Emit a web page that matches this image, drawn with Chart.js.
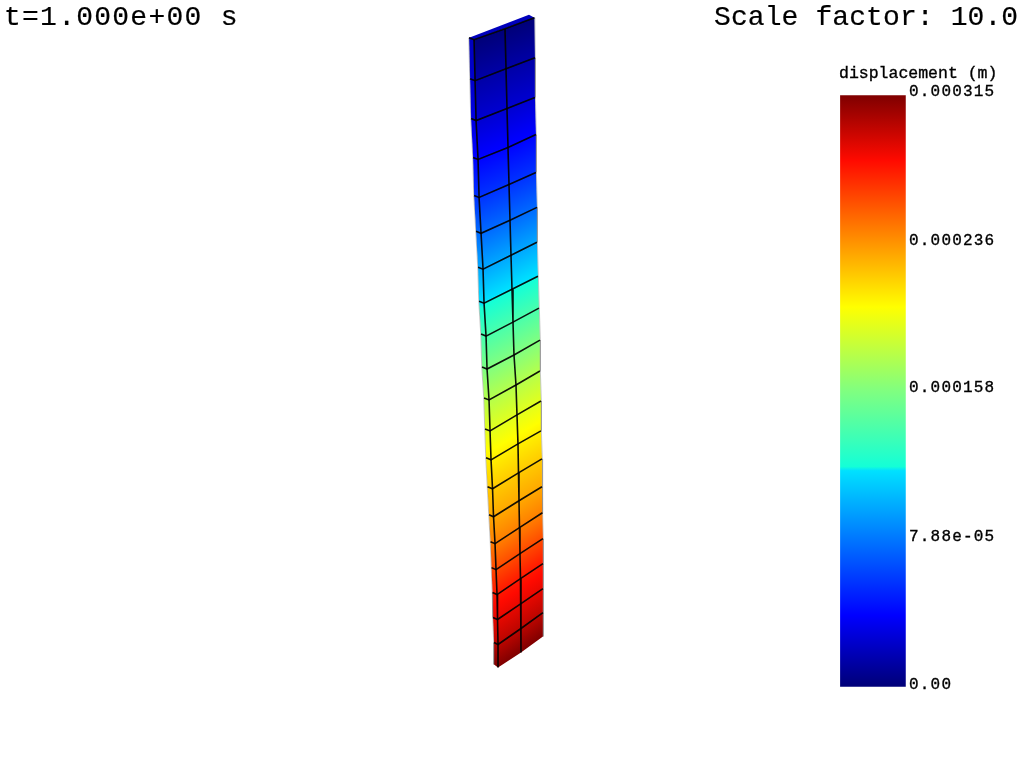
<!DOCTYPE html>
<html><head><meta charset="utf-8">
<style>html,body{margin:0;padding:0;background:#fff}canvas{display:block}</style>
<script src="https://cdn.jsdelivr.net/npm/chart.js@4"></script>
</head><body><canvas id="c" width="1024" height="768"></canvas>
<script>
// Mesh node positions (image pixels), one entry per row of the mesh.
const leftX = [474,475,476,478,479,481,483,484,486,487,489,490,491,492.5,493.5,495,496,497,497.5,498,498];
const leftY = [39,80,120,159,197,233,269,303,336,369,400,431,460,489,517,544,570,595,620,645,668];
const midX  = [505,506,507,508,509,510,511,512,513,514,516,517,518,518.5,519,519.5,520,520.5,521,521,521];
const midY  = [28,68,108,147,184,220,255,289,322,355,385,415,444,473,501,528,554,579,604,629,653];
const rightX= [534.5,535,535,536,536,537,537,538,539,540,540,541,541,542,542,542.5,543,543,543,543,543];
const rightY= [17,57,97,134,172,207,242,276,308,340,371,401,431,459,487,513,539,564,589,613,637];
const backX = [469,470,471,473,474,476,478,479,481,482,484,485,486,487.5,489,490.5,491.5,492.5,493,494,494];
const backY = [37,78,118,157,195,231,267,301,334,367,398,429,458,487,515,542,568,593,618,643,665];
// Displacement per mesh row (m), estimated from the colours.
const frontDisp = [0,1.3e-5,2.5e-5,3.9e-5,5.5e-5,7.4e-5,9.5e-5,1.16e-4,1.37e-4,1.58e-4,1.76e-4,1.92e-4,2.07e-4,2.19e-4,2.30e-4,2.43e-4,2.60e-4,2.76e-4,2.87e-4,2.99e-4,3.15e-4];
const sideDisp  = [2.0e-5,2.4e-5,3.0e-5,3.9e-5,5.5e-5,7.4e-5,9.5e-5,1.14e-4,1.35e-4,1.56e-4,1.76e-4,1.92e-4,2.07e-4,2.19e-4,2.30e-4,2.43e-4,2.60e-4,2.76e-4,2.87e-4,2.99e-4,3.15e-4];
const topFaceX = [474,534.5,529,469];
const topFaceY = [39,17,14,37];
const topFaceDisp = 1.9e-5;
// Colour bar
const barRange = [0,0.000315];
const tickValues = [0.000315,0.000236,0.000158,0.0000788,0];
const tickLabels = ['0.000315','0.000236','0.000158','7.88e-05','0.00'];
const barTitle = 'displacement (m)';
const timeLabel = 't=1.000e+00 s';
const scaleLabel = 'Scale factor: 10.0';
const jetPos = [0,0.12,0.365,0.372,0.5,0.642,0.89,1];
const jetRGB = [[0,0,120],[0,0,255],[0,225,255],[20,255,215],[128,255,128],[255,255,0],[255,10,0],[128,0,0]];

const vmax = barRange[1];
function jet(t){
  t=Math.max(0,Math.min(1,t));
  for(let i=1;i<jetPos.length;i++){
    if(t<=jetPos[i]){
      const f=(t-jetPos[i-1])/(jetPos[i]-jetPos[i-1]);
      const a=jetRGB[i-1],b=jetRGB[i];
      return `rgb(${a.map((v,k)=>Math.round(v+(b[k]-v)*f)).join(',')})`;
    }
  }
  return 'rgb(128,0,0)';
}
function bandFill(chart,p0,p1,q0,q1,v0,v1){
  const X=chart.scales.x,Y=chart.scales.y;
  const P=[X.getPixelForValue(p0.x),Y.getPixelForValue(p0.y)],P2=[X.getPixelForValue(p1.x),Y.getPixelForValue(p1.y)];
  const Q=[X.getPixelForValue(q0.x),Y.getPixelForValue(q0.y)],Q2=[X.getPixelForValue(q1.x),Y.getPixelForValue(q1.y)];
  if(![...P,...P2,...Q,...Q2].every(Number.isFinite)) return jet(v0/vmax);
  let dx=(P2[0]-P[0])+(Q2[0]-Q[0]),dy=(P2[1]-P[1])+(Q2[1]-Q[1]);
  const L=Math.hypot(dx,dy)||1;let nx=-dy/L,ny=dx/L;
  const mP=[(P[0]+P2[0])/2,(P[1]+P2[1])/2],mQ=[(Q[0]+Q2[0])/2,(Q[1]+Q2[1])/2];
  let d=(mQ[0]-mP[0])*nx+(mQ[1]-mP[1])*ny;
  const g=chart.ctx.createLinearGradient(mP[0],mP[1],mP[0]+nx*d,mP[1]+ny*d);
  const a=v0/vmax,b=v1/vmax;
  g.addColorStop(0,jet(a));
  jetPos.forEach(s=>{if(s>a&&s<b&&b>a)g.addColorStop((s-a)/(b-a),jet(s));});
  g.addColorStop(1,jet(b));
  return g;
}
const pt=(x,y)=>({x,y});
const datasets=[];
function cell(p0,p1,q1,q0,v0,v1){
  datasets.push({label:'cell',data:[p0,p1,q1,q0,p0],showLine:true,fill:'shape',tension:0,pointRadius:0,borderWidth:0,order:2,
    backgroundColor:c=>bandFill(c.chart,p0,p1,q0,q1,v0,v1)});
}
const rows=leftX.length;
for(let i=0;i<rows-1;i++){
  const L0=pt(leftX[i],leftY[i]),L1=pt(leftX[i+1],leftY[i+1]);
  const M0=pt(midX[i],midY[i]),M1=pt(midX[i+1],midY[i+1]);
  const R0=pt(rightX[i],rightY[i]),R1=pt(rightX[i+1],rightY[i+1]);
  const B0=pt(backX[i],backY[i]),B1=pt(backX[i+1],backY[i+1]);
  cell(B0,L0,L1,B1,sideDisp[i],sideDisp[i+1]);
  cell(L0,M0,M1,L1,frontDisp[i],frontDisp[i+1]);
  cell(M0,R0,R1,M1,frontDisp[i],frontDisp[i+1]);
}
datasets.push({label:'top',data:topFaceX.map((x,i)=>pt(x,topFaceY[i])).concat([pt(topFaceX[0],topFaceY[0])]),showLine:true,fill:'shape',tension:0,pointRadius:0,borderWidth:0,order:2,backgroundColor:jet(topFaceDisp/vmax)});
const gridLine=(data,w,col)=>({label:'grid',data,showLine:true,fill:false,tension:0,pointRadius:0,borderWidth:w,borderColor:col,order:0});
const ink='rgba(0,0,0,0.92)';
for(let i=0;i<rows-1;i++){
  datasets.push(gridLine([pt(backX[i],backY[i]),pt(leftX[i],leftY[i]),pt(midX[i],midY[i]),pt(rightX[i],rightY[i])],1.6,ink));
}
datasets.push(gridLine(leftX.map((x,i)=>pt(x,leftY[i])),1.6,ink));
datasets.push(gridLine(midX.map((x,i)=>pt(x,midY[i])),1.6,ink));
datasets.push(gridLine(rightX.map((x,i)=>pt(x+0.4,rightY[i])),0.8,'rgba(120,120,120,0.5)'));
datasets.push(gridLine(backX.map((x,i)=>pt(x-0.3,backY[i])),0.8,'rgba(120,120,120,0.5)'));
// Colour bar as a floating bar on its own value scale
const barPxTop=95,barPxBottom=687,perPx=vmax/(barPxBottom-barPxTop);
datasets.push({type:'bar',label:'bar',yAxisID:'yBar',data:[{x:873.5,y:barRange}],barThickness:65,borderWidth:0,order:3,
  backgroundColor:c=>{
    const s=c.chart.scales.yBar;
    const y0=s.getPixelForValue(0),y1=s.getPixelForValue(vmax);
    if(!Number.isFinite(y0)||!Number.isFinite(y1)) return jet(0.5);
    const g=c.chart.ctx.createLinearGradient(0,y0,0,y1);
    jetPos.forEach(p=>g.addColorStop(p,jet(p)));
    return g;
  }});
const labelNudge=[0.7,1.3,1.9,2.4,3];
const textPlugin={id:'texts',afterDraw(chart){
  const ctx=chart.ctx,s=chart.scales.yBar;
  ctx.save();ctx.fillStyle='#000';ctx.strokeStyle='#000';ctx.textBaseline='alphabetic';ctx.textAlign='left';
  const put=(t,x,y,w)=>{ctx.fillText(t,x,y);ctx.lineWidth=w;ctx.strokeText(t,x,y);};
  ctx.font='28px "Liberation Mono"';ctx.letterSpacing='1.25px';
  put(timeLabel,4,25,0.2);
  ctx.letterSpacing='0.1px';
  put(scaleLabel,714,25,0.2);
  ctx.font='16.5px "Liberation Mono"';ctx.letterSpacing='0px';
  put(barTitle,839,77.5,0.35);
  ctx.font='16px "Liberation Mono"';ctx.letterSpacing='1.2px';
  tickLabels.forEach((t,i)=>put(t,909,s.getPixelForValue(tickValues[i])+labelNudge[i],0.35));
  ctx.restore();
}};
const chart=new Chart(document.getElementById('c'),{
  type:'scatter',
  data:{datasets},
  plugins:[textPlugin],
  options:{
    responsive:false,animation:false,
    layout:{padding:0},
    plugins:{legend:{display:false},tooltip:{enabled:false},title:{display:false}},
    scales:{
      x:{type:'linear',min:0,max:1024,display:false,offset:false},
      y:{type:'linear',min:0,max:768,reverse:true,display:false},
      yBar:{type:'linear',min:-(768-barPxBottom)*perPx,max:vmax+barPxTop*perPx,display:false}
    }
  }
});
chart.update();
</script></body></html>
